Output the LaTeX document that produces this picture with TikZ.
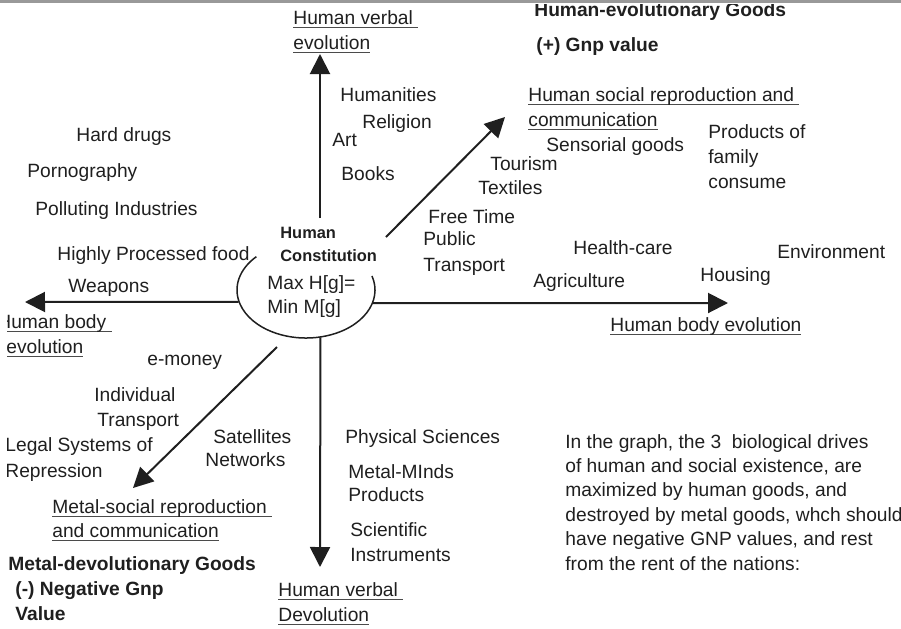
\documentclass[tikz,border=0pt]{standalone}
\usepackage{fontspec}
\setmainfont{Liberation Sans}
\usetikzlibrary{arrows.meta,shapes.geometric}

\definecolor{ink}{gray}{0.12}
\definecolor{rulegray}{gray}{0.6}
\newcommand{\ulin}[1]{\setbox0\hbox{#1}\rlap{\color{ink!80}\rule[-2.2pt]{\wd0}{0.6pt}}\box0}

\begin{document}
\begin{tikzpicture}[x=0.5pt,y=-0.5pt,
    lbl/.style={anchor=base west,inner sep=0pt,text=ink,font=\fontsize{9.6}{12}\selectfont},
    bold/.style={lbl,font=\fontsize{9.6}{12}\selectfont\bfseries},
    core/.style={lbl,font=\fontsize{8.2}{10}\selectfont\bfseries},
    arr/.style={draw=ink,line width=1pt,-{Triangle[length=10pt,width=10pt]}},
    rim/.style={draw=ink,line width=0.75pt}]
  \useasboundingbox (0,0) rectangle (901,628);
  \draw[rulegray,line width=1.5pt] (0,1.5) -- (901,1.5);
  \begin{scope}
  \clip (7,4) rectangle (901,628);
  % centre
  \node[ellipse,minimum width=69pt,minimum height=48pt,inner sep=0pt] (hub) at (306,290) {};
  \draw[rim] ([shift={(-17:69 and 48)}]hub.center) arc[start angle=-17,end angle=224,x radius=69,y radius=48];
  \node[core] (const1) at (280,238) {Human};
  \node[core] (const2) at (280,261) {Constitution};
  \node[lbl] (maxh) at (267,289) {Max H[g]=};
  \node[lbl] (minm) at (267,313) {Min M[g]};
  % arrows
  \coordinate (upFrom) at (320,218);
  \coordinate (upTip) at (320,54);
  \coordinate (neFrom) at (386,237);
  \coordinate (neTip) at (505,117);
  \coordinate (eTip) at (728,303);
  \coordinate (wTip) at (25,302);
  \coordinate (sTip) at (320,567);
  \coordinate (swFrom) at (277,347);
  \coordinate (swTip) at (133,488);
  \draw[arr] (upFrom) -- (upTip);
  \draw[arr] (neFrom) -- (neTip);
  \draw[arr] (hub.-11) -- (eTip);
  \draw[arr] (hub.190) -- (wTip);
  \draw[arr] (hub.-73) -- (sTip);
  \draw[arr] (swFrom) -- (swTip);
  % upper half
  \node[lbl] (hverb1) at (293,24) {\ulin{Human verbal\ }};
  \node[lbl] (hverb2) at (293,49) {\ulin{evolution}};
  \node[bold] (hgoods) at (534,16) {Human-evolutionary Goods};
  \node[bold] (hgnp) at (536,51) {(+) Gnp value};
  \node[lbl] (humanities) at (340,101) {Humanities};
  \node[lbl] (religion) at (362,128) {Religion};
  \node[lbl] (art) at (332,146) {Art};
  \node[lbl] (books) at (341,180) {Books};
  \node[lbl] (hsoc1) at (528,101) {\ulin{Human social reproduction and\ }};
  \node[lbl] (hsoc2) at (528,126) {\ulin{communication}};
  \node[lbl] (sensorial) at (546,151) {Sensorial goods};
  \node[lbl] (family1) at (708,138) {Products of};
  \node[lbl] (family2) at (708,163) {family};
  \node[lbl] (family3) at (708,188) {consume};
  \node[lbl] (tourism) at (490,170) {Tourism};
  \node[lbl] (textiles) at (478,194) {Textiles};
  \node[lbl] (freetime) at (428,223) {Free Time};
  \node[lbl] (public1) at (423,245) {Public};
  \node[lbl] (public2) at (423,271) {Transport};
  \node[lbl] (health) at (573,254) {Health-care};
  \node[lbl] (agri) at (533,287) {Agriculture};
  \node[lbl] (environ) at (777,258) {Environment};
  \node[lbl] (housing) at (700,281) {Housing};
  \node[lbl] (hbody) at (610,331) {\ulin{Human body evolution}};
  % left half
  \node[lbl] (drugs) at (76,141) {Hard drugs};
  \node[lbl] (porn) at (27,177) {Pornography};
  \node[lbl] (polluting) at (35,215) {Polluting Industries};
  \node[lbl] (food) at (57,260) {Highly Processed food};
  \node[lbl] (weapons) at (68,292) {Weapons};
  \node[lbl] (lbody1) at (-3,328) {\ulin{Human body\ }};
  \node[lbl] (lbody2) at (6,353) {\ulin{evolution}};
  \node[lbl] (emoney) at (147,365) {e-money};
  \node[lbl] (indiv1) at (94,401) {Individual};
  \node[lbl] (indiv2) at (97,426) {Transport};
  \node[lbl] (legal1) at (5,451) {Legal Systems of};
  \node[lbl] (legal2) at (5,477) {Repression};
  \node[lbl] (sat1) at (213,443) {Satellites};
  \node[lbl] (sat2) at (205,466) {Networks};
  \node[lbl] (msoc1) at (52,513) {\ulin{Metal-social reproduction\ }};
  \node[lbl] (msoc2) at (52,537) {\ulin{and communication}};
  \node[bold] (mgoods) at (8,570) {Metal-devolutionary Goods};
  \node[bold] (mgnp) at (15,595) {(-) Negative Gnp};
  \node[bold] (mvalue) at (15,620) {Value};
  % lower half
  \node[lbl] (phys) at (345,443) {Physical Sciences};
  \node[lbl] (metal1) at (348,478) {Metal-MInds};
  \node[lbl] (metal2) at (348,501) {Products};
  \node[lbl] (sci1) at (350,536) {Scientific};
  \node[lbl] (sci2) at (350,561) {Instruments};
  \node[lbl] (hdev1) at (278,596) {\ulin{Human verbal\ }};
  \node[lbl] (hdev2) at (278,621) {\ulin{Devolution}};
  % note
  \foreach \txt [count=\i] in {{In the graph, the 3\ \ biological drives},
      {of human and social existence, are},{maximized by human goods, and},
      {destroyed by metal goods, whch should},{have negative GNP values, and rest},
      {from the rent of the nations:}}
    \node[lbl] (note\i) at (565,{423.6+24.4*\i}) {\txt};
  \end{scope}
\end{tikzpicture}
\end{document}
